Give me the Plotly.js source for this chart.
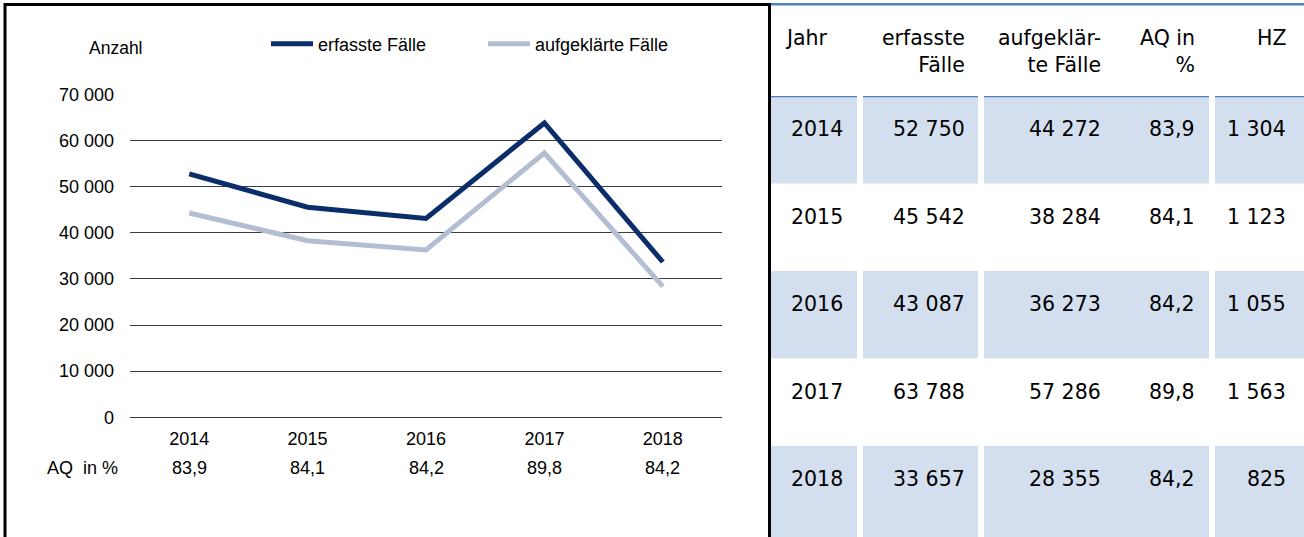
<!DOCTYPE html>
<html>
<head>
<meta charset="utf-8">
<script src="https://cdn.plot.ly/plotly-3.0.1.min.js"></script>
<style>
  html, body { margin: 0; padding: 0; background: #ffffff; }
  #chart { width: 1304px; height: 537px; }
</style>
</head>
<body>
<div id="chart"></div>
<script>
// ---------- data ----------
const years = ['2014', '2015', '2016', '2017', '2018'];
const erfassteFaelle = [52750, 45542, 43087, 63788, 33657];
const aufgeklaerteFaelle = [44272, 38284, 36273, 57286, 28355];
const aqProzent = [83.9, 84.1, 84.2, 89.8, 84.2];
const haeufigkeitszahl = [1304, 1123, 1055, 1563, 825];
const seriesNames = ['erfasste Fälle', 'aufgeklärte Fälle'];
const tableHeaders = ['Jahr', 'erfasste<br>Fälle', 'aufgeklär-<br>te Fälle', 'AQ in<br>%', 'HZ'];
const yTicks = [0, 10000, 20000, 30000, 40000, 50000, 60000, 70000];

// ---------- layout constants ----------
const W = 1304, H = 537;
const px = x => x / W;
const py = y => 1 - y / H;
const FONT = 'Liberation Sans, Arial, sans-serif';
const TFONT = 'DejaVu Sans, Liberation Sans, sans-serif';
const TSIZE = 20.5;
const DARK = '#0b2d69';
const LIGHT = '#b4bed2';
const SHADE = '#d3dfee';
const ACCENT = '#4f81bd';
const GRID = '#3c3c3c';

// table geometry (pixel units of the invisible x2 axis / row units of y2)
const rowH = 87.5, rowsTop = 96;
const cellGroups = [[770, 857], [863, 978], [984, 1209], [1215, 1304]];
const colRight = [845, 967, 1103, 1197, 1288];
const headerRight = [830, 967, 1103, 1197, 1288];
const headerY = [38, 51.5, 51.5, 51.5, 38];
const textOffset = 33 / rowH;

const fmtInt = n => String(n).replace(/\B(?=(\d{3})+(?!\d))/g, '\u00a0');
const fmtDec = v => v.toFixed(1).replace('.', ',');

// ---------- traces ----------
const traces = [
  { type: 'scatter', mode: 'lines', x: years, y: erfassteFaelle, name: seriesNames[0],
    line: { color: DARK, width: 5 }, legend: 'legend', hoverinfo: 'skip' },
  { type: 'scatter', mode: 'lines', x: years, y: aufgeklaerteFaelle, name: seriesNames[1],
    line: { color: LIGHT, width: 5 }, legend: 'legend2', hoverinfo: 'skip' }
];

// ---------- annotations ----------
const annotations = [];
annotations.push({ xref: 'paper', yref: 'paper', x: px(87), y: py(48), xanchor: 'left', yanchor: 'middle',
  text: 'Anzahl', showarrow: false, font: { family: FONT, size: 17.5, color: '#000' } });
annotations.push({ xref: 'paper', yref: 'paper', x: px(120), y: py(468), xanchor: 'right', yanchor: 'middle',
  text: 'AQ\u00a0 in %', showarrow: false, font: { family: FONT, size: 18, color: '#000' } });
years.forEach((yr, i) => {
  annotations.push({ xref: 'x', yref: 'paper', x: i, y: py(468), xanchor: 'center', yanchor: 'middle',
    text: fmtDec(aqProzent[i]), showarrow: false, font: { family: FONT, size: 18, color: '#000' } });
});

// table header
tableHeaders.forEach((h, c) => {
  annotations.push({ xref: 'x2', yref: 'paper', x: headerRight[c], y: py(headerY[c]), xanchor: 'right', yanchor: 'middle',
    text: h, align: 'right', showarrow: false, font: { family: TFONT, size: TSIZE, color: '#000' } });
});

// table body
years.forEach((yr, i) => {
  const cells = [yr, fmtInt(erfassteFaelle[i]), fmtInt(aufgeklaerteFaelle[i]), fmtDec(aqProzent[i]), fmtInt(haeufigkeitszahl[i])];
  cells.forEach((t, c) => {
    annotations.push({ xref: 'x2', yref: 'y2', x: colRight[c], y: i + textOffset, xanchor: 'right', yanchor: 'middle',
      text: t, showarrow: false, font: { family: TFONT, size: TSIZE, color: '#000' } });
  });
});

// ---------- shapes ----------
const shapes = [];
const yMax = (H - rowsTop) / rowH;
years.forEach((yr, i) => {
  if (i % 2 === 0) {
    const bottom = (i === years.length - 1) ? yMax : Math.min(i + 1, yMax);
    cellGroups.forEach(g => {
      shapes.push({ type: 'rect', xref: 'x2', yref: 'y2', x0: g[0], x1: g[1], y0: i, y1: bottom,
        fillcolor: SHADE, line: { width: 0 }, layer: 'below' });
    });
  }
});
cellGroups.forEach(g => {
  shapes.push({ type: 'line', xref: 'x2', yref: 'y2', x0: g[0], x1: g[1], y0: 0, y1: 0,
    line: { color: ACCENT, width: 2.5 } });
});
shapes.push({ type: 'line', xref: 'paper', yref: 'paper', x0: px(768), x1: 1, y0: py(4.2), y1: py(4.2),
  line: { color: ACCENT, width: 2.5 } });
// chart frame
shapes.push({ type: 'rect', xref: 'paper', yref: 'paper', x0: px(5), x1: px(769.5), y0: -0.05, y1: py(4.5),
  line: { color: '#000', width: 3 }, fillcolor: 'rgba(0,0,0,0)' });

// ---------- layout ----------
const legendBase = { orientation: 'h', yanchor: 'middle', xanchor: 'left', y: py(44), itemwidth: 42,
  font: { family: FONT, size: 18, color: '#000' }, bgcolor: 'rgba(0,0,0,0)', borderwidth: 0 };

const layout = {
  width: W, height: H,
  margin: { l: 0, r: 0, t: 0, b: 0 },
  paper_bgcolor: '#fff', plot_bgcolor: 'rgba(0,0,0,0)',
  separators: ', ',
  font: { family: FONT, color: '#000' },
  showlegend: true,
  legend: Object.assign({}, legendBase, { x: px(266) }),
  legend2: Object.assign({}, legendBase, { x: px(483) }),
  xaxis: {
    domain: [px(130), px(722)], type: 'category', range: [-0.5, years.length - 0.5],
    showgrid: false, showline: false, zeroline: false, ticks: '',
    tickfont: { family: FONT, size: 18, color: '#000' }, ticklabelstandoff: 9, fixedrange: true
  },
  yaxis: {
    domain: [py(417.3), py(94.3)], range: [0, 70000], tickvals: yTicks,
    tickformat: ',d', showgrid: true, gridcolor: GRID, gridwidth: 1,
    zeroline: true, zerolinecolor: GRID, zerolinewidth: 1, showline: false, ticks: '',
    tickfont: { family: FONT, size: 18, color: '#000' }, ticklabelstandoff: 15, fixedrange: true
  },
  xaxis2: { domain: [0, 1], range: [0, W], anchor: 'y2', visible: false, fixedrange: true },
  yaxis2: { domain: [0, py(rowsTop)], range: [yMax, 0], anchor: 'x2', visible: false, fixedrange: true },
  annotations: annotations,
  shapes: shapes
};

Plotly.newPlot('chart', traces, layout, { staticPlot: true, displayModeBar: false });
</script>
</body>
</html>
